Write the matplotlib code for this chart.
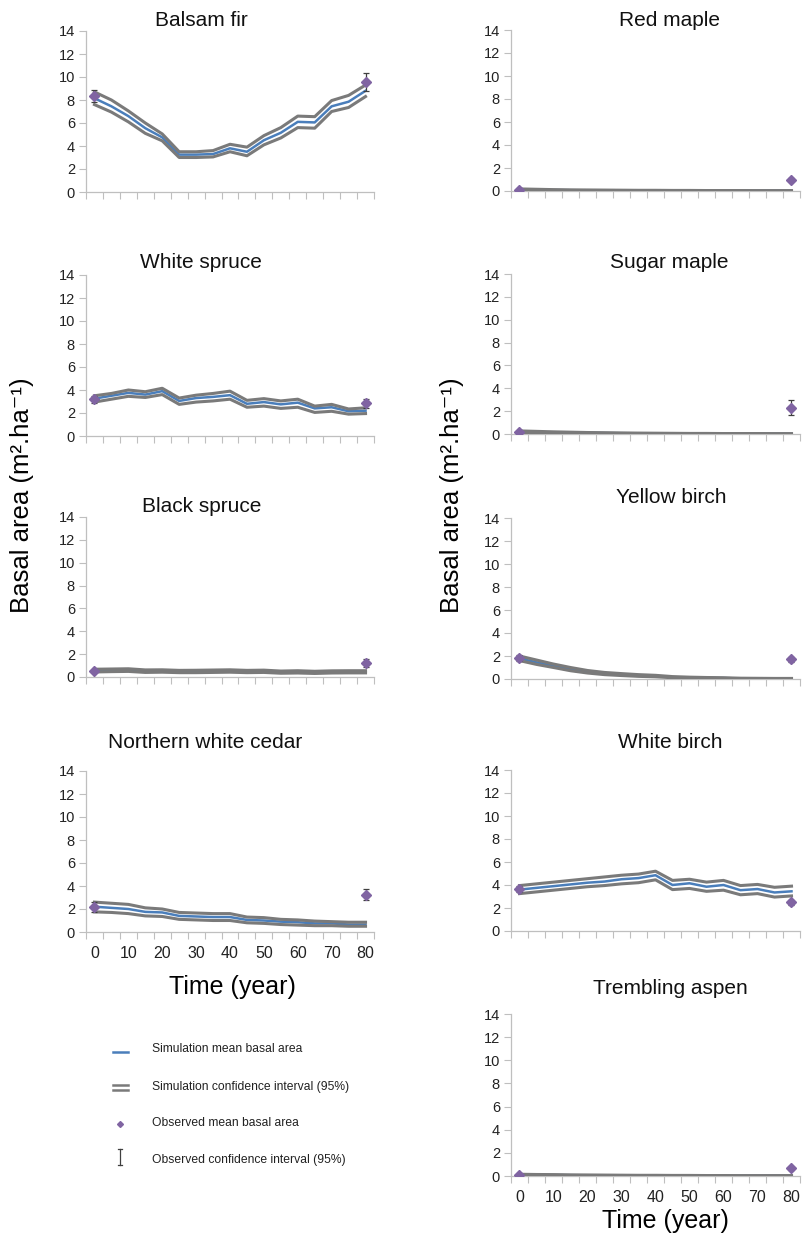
import matplotlib
matplotlib.use('Agg')
import matplotlib.pyplot as plt
from matplotlib.lines import Line2D

plt.rcParams['font.family'] = ['Liberation Sans', 'DejaVu Sans']

W, H = 804, 1237

years = [0, 5, 10, 15, 20, 25, 30, 35, 40, 45, 50, 55, 60, 65, 70, 75, 80]
obs_years = [0, 80]
xtick_labels = ['0', '10', '20', '30', '40', '50', '60', '70', '80']

# simulated mean and 95% CI, observed mean and 95% CI
balsam_mean = [8.15, 7.45, 6.6, 5.55, 4.75, 3.25, 3.25, 3.3, 3.8, 3.5, 4.5, 5.15, 6.1, 6.05, 7.45, 7.85, 8.8]
balsam_hi = [8.7, 8.0, 7.05, 6.0, 5.05, 3.5, 3.5, 3.6, 4.15, 3.9, 4.9, 5.6, 6.6, 6.55, 7.95, 8.4, 9.3]
balsam_lo = [7.6, 6.95, 6.1, 5.1, 4.45, 3.0, 3.0, 3.05, 3.5, 3.15, 4.1, 4.7, 5.6, 5.55, 7.0, 7.35, 8.3]
balsam_obs = [8.35, 9.55]
balsam_obs_lo = [7.8, 8.8]
balsam_obs_hi = [8.85, 10.35]

redmaple_mean = [0.12, 0.1, 0.08, 0.07, 0.06, 0.05, 0.05, 0.04, 0.04, 0.03, 0.03, 0.03, 0.03, 0.02, 0.02, 0.02, 0.02]
redmaple_hi = [0.18, 0.15, 0.12, 0.1, 0.09, 0.08, 0.07, 0.06, 0.06, 0.05, 0.05, 0.04, 0.04, 0.04, 0.03, 0.03, 0.03]
redmaple_lo = [0.07, 0.06, 0.05, 0.04, 0.04, 0.03, 0.03, 0.02, 0.02, 0.02, 0.02, 0.01, 0.01, 0.01, 0.01, 0.01, 0.01]
redmaple_obs = [0.05, 1.0]
redmaple_obs_lo = [0.0, 0.85]
redmaple_obs_hi = [0.1, 1.15]

wspruce_mean = [3.25, 3.5, 3.75, 3.6, 3.9, 3.05, 3.3, 3.4, 3.55, 2.8, 2.95, 2.75, 2.9, 2.4, 2.5, 2.15, 2.2]
wspruce_hi = [3.5, 3.7, 4.0, 3.85, 4.15, 3.3, 3.55, 3.7, 3.9, 3.1, 3.25, 3.05, 3.2, 2.6, 2.75, 2.35, 2.45]
wspruce_lo = [2.95, 3.2, 3.45, 3.35, 3.6, 2.75, 2.95, 3.05, 3.2, 2.5, 2.6, 2.4, 2.5, 2.05, 2.15, 1.9, 1.95]
wspruce_obs = [3.2, 2.85]
wspruce_obs_lo = [2.9, 2.45]
wspruce_obs_hi = [3.5, 3.25]

sugar_mean = [0.2, 0.17, 0.14, 0.12, 0.1, 0.08, 0.07, 0.06, 0.05, 0.05, 0.04, 0.04, 0.03, 0.03, 0.03, 0.02, 0.02]
sugar_hi = [0.27, 0.23, 0.19, 0.16, 0.13, 0.11, 0.09, 0.08, 0.07, 0.06, 0.05, 0.05, 0.04, 0.04, 0.04, 0.03, 0.03]
sugar_lo = [0.14, 0.12, 0.1, 0.08, 0.07, 0.06, 0.05, 0.04, 0.04, 0.03, 0.03, 0.03, 0.02, 0.02, 0.02, 0.01, 0.01]
sugar_obs = [0.15, 2.3]
sugar_obs_lo = [0.05, 1.7]
sugar_obs_hi = [0.25, 3.0]

bspruce_mean = [0.55, 0.58, 0.6, 0.5, 0.52, 0.47, 0.48, 0.5, 0.52, 0.48, 0.5, 0.42, 0.45, 0.4, 0.44, 0.45, 0.45]
bspruce_hi = [0.68, 0.7, 0.72, 0.62, 0.63, 0.58, 0.59, 0.61, 0.63, 0.58, 0.6, 0.52, 0.55, 0.5, 0.54, 0.55, 0.55]
bspruce_lo = [0.44, 0.47, 0.49, 0.4, 0.42, 0.38, 0.38, 0.4, 0.42, 0.38, 0.4, 0.33, 0.35, 0.31, 0.35, 0.36, 0.36]
bspruce_obs = [0.5, 1.25]
bspruce_obs_lo = [0.4, 0.9]
bspruce_obs_hi = [0.6, 1.6]

ybirch_mean = [1.8, 1.45, 1.15, 0.85, 0.62, 0.47, 0.38, 0.3, 0.25, 0.16, 0.12, 0.1, 0.08, 0.05, 0.04, 0.03, 0.03]
ybirch_hi = [2.0, 1.65, 1.3, 1.0, 0.74, 0.57, 0.47, 0.38, 0.32, 0.21, 0.16, 0.13, 0.11, 0.07, 0.06, 0.05, 0.05]
ybirch_lo = [1.6, 1.27, 1.0, 0.72, 0.52, 0.38, 0.3, 0.23, 0.19, 0.11, 0.08, 0.07, 0.05, 0.03, 0.02, 0.01, 0.01]
ybirch_obs = [1.85, 1.7]
ybirch_obs_lo = [1.6, 1.45]
ybirch_obs_hi = [2.1, 1.95]

cedar_mean = [2.2, 2.1, 2.0, 1.75, 1.7, 1.4, 1.35, 1.3, 1.3, 1.05, 1.0, 0.9, 0.85, 0.75, 0.75, 0.65, 0.65]
cedar_hi = [2.6, 2.5, 2.4, 2.1, 2.0, 1.7, 1.65, 1.6, 1.6, 1.3, 1.25, 1.1, 1.05, 0.95, 0.9, 0.85, 0.85]
cedar_lo = [1.75, 1.7, 1.6, 1.4, 1.35, 1.1, 1.05, 1.0, 1.0, 0.8, 0.75, 0.65, 0.6, 0.55, 0.55, 0.5, 0.5]
cedar_obs = [2.2, 3.2]
cedar_obs_lo = [1.75, 2.75]
cedar_obs_hi = [2.6, 3.7]

wbirch_mean = [3.6, 3.75, 3.9, 4.05, 4.2, 4.3, 4.5, 4.6, 4.85, 4.0, 4.15, 3.85, 4.0, 3.55, 3.65, 3.35, 3.45]
wbirch_hi = [3.95, 4.1, 4.25, 4.4, 4.55, 4.7, 4.85, 4.95, 5.2, 4.4, 4.5, 4.25, 4.4, 3.95, 4.05, 3.8, 3.9]
wbirch_lo = [3.25, 3.4, 3.55, 3.7, 3.85, 3.95, 4.1, 4.2, 4.45, 3.6, 3.7, 3.45, 3.55, 3.15, 3.25, 2.95, 3.05]
wbirch_obs = [3.65, 2.5]
wbirch_obs_lo = [3.4, 2.3]
wbirch_obs_hi = [3.9, 2.7]

aspen_mean = [0.1, 0.09, 0.08, 0.07, 0.06, 0.05, 0.05, 0.04, 0.04, 0.03, 0.03, 0.03, 0.02, 0.02, 0.02, 0.02, 0.02]
aspen_hi = [0.15, 0.13, 0.12, 0.1, 0.09, 0.08, 0.07, 0.06, 0.06, 0.05, 0.05, 0.04, 0.04, 0.03, 0.03, 0.03, 0.03]
aspen_lo = [0.06, 0.05, 0.05, 0.04, 0.03, 0.03, 0.03, 0.02, 0.02, 0.02, 0.02, 0.01, 0.01, 0.01, 0.01, 0.01, 0.01]
aspen_obs = [0.05, 0.65]
aspen_obs_lo = [0.0, 0.5]
aspen_obs_hi = [0.1, 0.8]

BLUE = '#4a7ebb'
GRAY = '#7a7a7a'
PURPLE = '#8064a2'
AXC = '#bfbfbf'

# (title, data, axes box in px: left, top, right, bottom, title centre px, show x labels)
panels = [
    ('Balsam fir', (balsam_mean, balsam_hi, balsam_lo, balsam_obs, balsam_obs_lo, balsam_obs_hi),
     (86, 31, 374, 192), (201, 20), False),
    ('White spruce', (wspruce_mean, wspruce_hi, wspruce_lo, wspruce_obs, wspruce_obs_lo, wspruce_obs_hi),
     (86, 275, 374, 436), (201, 263), False),
    ('Black spruce', (bspruce_mean, bspruce_hi, bspruce_lo, bspruce_obs, bspruce_obs_lo, bspruce_obs_hi),
     (86, 517, 374, 677), (202, 507), False),
    ('Northern white cedar', (cedar_mean, cedar_hi, cedar_lo, cedar_obs, cedar_obs_lo, cedar_obs_hi),
     (86, 771, 374, 932), (205, 743), True),
    ('Red maple', (redmaple_mean, redmaple_hi, redmaple_lo, redmaple_obs, redmaple_obs_lo, redmaple_obs_hi),
     (511, 30, 800, 191), (670, 20), False),
    ('Sugar maple', (sugar_mean, sugar_hi, sugar_lo, sugar_obs, sugar_obs_lo, sugar_obs_hi),
     (511, 274, 800, 434), (669, 262), False),
    ('Yellow birch', (ybirch_mean, ybirch_hi, ybirch_lo, ybirch_obs, ybirch_obs_lo, ybirch_obs_hi),
     (511, 518, 800, 679), (671, 498), False),
    ('White birch', (wbirch_mean, wbirch_hi, wbirch_lo, wbirch_obs, wbirch_obs_lo, wbirch_obs_hi),
     (511, 770, 800, 931), (670, 743), False),
    ('Trembling aspen', (aspen_mean, aspen_hi, aspen_lo, aspen_obs, aspen_obs_lo, aspen_obs_hi),
     (511, 1014, 800, 1176), (670, 988), True),
]

fig = plt.figure(figsize=(W / 100, H / 100), dpi=100)

for title, (mean, hi, lo, obs, olo, ohi), (l, t, r, b), (tx, ty), xlab in panels:
    ax = fig.add_axes([l / W, 1 - b / H, (r - l) / W, (b - t) / H])
    # mean first, CI lines drawn over it (as in the spreadsheet chart)
    ax.plot(years, mean, color=BLUE, lw=1.8, zorder=2)
    ax.plot(years, hi, color=GRAY, lw=2.2, solid_joinstyle='round', zorder=3)
    ax.plot(years, lo, color=GRAY, lw=2.2, solid_joinstyle='round', zorder=3)
    yerr = [[o - a for o, a in zip(obs, olo)], [c - o for o, c in zip(obs, ohi)]]
    ax.errorbar(obs_years, obs, yerr=yerr, fmt='none', ecolor='#404040',
                elinewidth=0.9, capsize=2.2, capthick=0.9, zorder=4)
    ax.plot(obs_years, obs, 'D', color=PURPLE, ms=5, mec=PURPLE, zorder=5)

    ax.set_xlim(-2.5, 82.5)
    ax.set_ylim(0, 14)
    ax.set_yticks([0, 2, 4, 6, 8, 10, 12, 14])
    ax.set_xticks([0, 10, 20, 30, 40, 50, 60, 70, 80])
    ax.set_xticks([-2.5 + 5 * i for i in range(18)], minor=True)
    ax.tick_params(axis='x', which='major', length=0, pad=10, labelsize=11.5, labelcolor='#222222')
    ax.tick_params(axis='x', which='minor', length=5, width=0.8, color=AXC, direction='out')
    ax.tick_params(axis='y', length=5, width=0.8, color=AXC, labelsize=10.5, labelcolor='#222222', pad=3)
    if xlab:
        ax.set_xticklabels(xtick_labels)
    else:
        ax.set_xticklabels([])
    for s in ['top', 'right']:
        ax.spines[s].set_visible(False)
    for s in ['left', 'bottom']:
        ax.spines[s].set_color(AXC)
        ax.spines[s].set_linewidth(0.9)
    ax.patch.set_alpha(0)
    fig.text(tx / W, 1 - ty / H, title, ha='center', va='center', fontsize=15, color='#111111')

ylab = 'Basal area (m\u00b2.ha\u207b\u00b9)'
fig.text(22 / W, 1 - 495 / H, ylab, rotation=90, ha='center', va='center', fontsize=18.5)
fig.text(452 / W, 1 - 495 / H, ylab, rotation=90, ha='center', va='center', fontsize=18.5)
fig.text(232 / W, 1 - 987 / H, 'Time (year)', ha='center', va='center', fontsize=18)
fig.text(665 / W, 1 - 1221 / H, 'Time (year)', ha='center', va='center', fontsize=18)

# legend drawn in pixel space
lg = fig.add_axes([0, 0, 1, 1])
lg.set_xlim(0, W)
lg.set_ylim(H, 0)
lg.axis('off')
lg.add_line(Line2D([113, 128], [1052, 1052], color=BLUE, lw=1.8))
lg.add_line(Line2D([113, 128], [1085, 1085], color=GRAY, lw=1.8))
lg.add_line(Line2D([113, 128], [1090, 1090], color=GRAY, lw=1.8))
lg.add_line(Line2D([120], [1124], marker='D', color=PURPLE, ms=3, lw=0))
lg.add_line(Line2D([120, 120], [1149, 1165], color='#404040', lw=0.9))
lg.add_line(Line2D([118, 122], [1149, 1149], color='#404040', lw=0.9))
lg.add_line(Line2D([118, 122], [1165, 1165], color='#404040', lw=0.9))
legend_labels = ['Simulation mean basal area', 'Simulation confidence interval (95%)',
                 'Observed mean basal area', 'Observed confidence interval (95%)']
for lab, yy in zip(legend_labels, [1049, 1087, 1123, 1160]):
    lg.text(152, yy, lab, ha='left', va='center', fontsize=8.7, color='#222222')

fig.savefig('out.png', dpi=100)
